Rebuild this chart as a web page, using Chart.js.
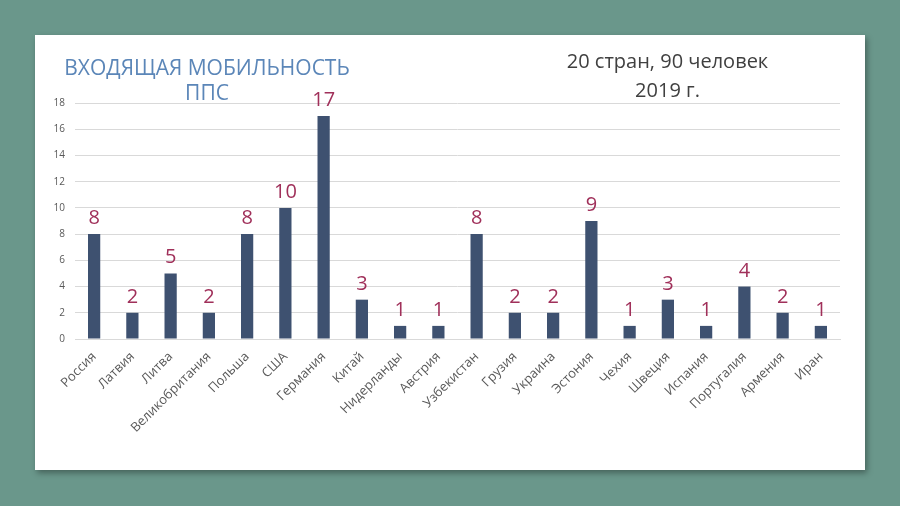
<!DOCTYPE html>
<html>
<head>
<meta charset="utf-8">
<script src="https://cdn.jsdelivr.net/npm/chart.js@4/dist/chart.umd.min.js"></script>
<style>
    html, body { margin: 0; padding: 0; }
    body { width: 900px; height: 506px; background: #6a978b; position: relative; overflow: hidden; font-family: "Open Sans", "Noto Sans", sans-serif; }
    #card { position: absolute; left: 35px; top: 35px; width: 830px; height: 435px; background: #fff; box-shadow: 2px 3px 6px rgba(0,0,0,0.35); }
    #chart { position: absolute; left: 0; top: 0; }
    .t { position: absolute; text-align: center; white-space: nowrap; line-height: 1; }
    #title { left: 12px; top: 22px; width: 320px; color: #5b86b8; font-size: 21px; }
    #title div { height: 25px; }
    #note { left: 505px; top: 16px; width: 255px; color: #404040; font-size: 20px; }
    #note div { height: 29px; }
</style>
</head>
<body>
<div id="card">
    <canvas id="chart" width="830" height="435"></canvas>
    <div class="t" id="title"><div>ВХОДЯЩАЯ МОБИЛЬНОСТЬ</div><div>ППС</div></div>
    <div class="t" id="note"><div>20 стран, 90 человек</div><div>2019 г.</div></div>
</div>
<script>
var countries = ["Россия", "Латвия", "Литва", "Великобритания", "Польша", "США", "Германия", "Китай", "Нидерланды", "Австрия",
    "Узбекистан", "Грузия", "Украина", "Эстония", "Чехия", "Швеция", "Испания", "Португалия", "Армения", "Иран"];
var people = [8, 2, 5, 2, 8, 10, 17, 3, 1, 1, 8, 2, 2, 9, 1, 3, 1, 4, 2, 1];
var yTicks = [0, 2, 4, 6, 8, 10, 12, 14, 16, 18];

/* numbers above the bars */
var valueLabels = {
    id: 'valueLabels',
    afterDatasetsDraw: function (chart) {
        var ctx = chart.ctx;
        var meta = chart.getDatasetMeta(0);
        ctx.save();
        ctx.fillStyle = '#a0305a';
        ctx.font = '20px "Open Sans", "Noto Sans", sans-serif';
        ctx.textAlign = 'center';
        ctx.textBaseline = 'alphabetic';
        for (var i = 0; i < meta.data.length; i++) {
            var bar = meta.data[i];
            ctx.fillText(String(people[i]), bar.x, bar.y - 10);
        }
        ctx.restore();
    }
};

new Chart(document.getElementById('chart'), {
    type: 'bar',
    data: {
        labels: countries,
        datasets: [{
            data: people,
            backgroundColor: '#3e5170',
            categoryPercentage: 1,
            barPercentage: 0.32
        }]
    },
    options: {
        responsive: false,
        animation: false,
        layout: { padding: { top: 68, right: 25, left: 0, bottom: 0 } },
        plugins: {
            legend: { display: false },
            tooltip: { enabled: false }
        },
        scales: {
            x: {
                grid: { display: false },
                border: { color: '#d9d9d9' },
                ticks: {
                    color: '#595959',
                    font: { size: 13, family: '"Open Sans", "Noto Sans", sans-serif' },
                    minRotation: 45,
                    maxRotation: 45,
                    autoSkip: false,
                    padding: 2
                },
                afterFit: function (scale) { scale.height = 131; }
            },
            y: {
                min: 0,
                max: 18,
                afterBuildTicks: function (scale) {
                    scale.ticks = yTicks.map(function (v) { return { value: v }; });
                },
                grid: { color: '#d9d9d9', drawTicks: false },
                border: { display: false },
                ticks: {
                    color: '#595959',
                    font: { size: 10, family: '"Open Sans", "Noto Sans", sans-serif' },
                    padding: 10
                },
                afterFit: function (scale) { scale.width = 40; }
            }
        }
    },
    plugins: [valueLabels]
});
</script>
</body>
</html>
